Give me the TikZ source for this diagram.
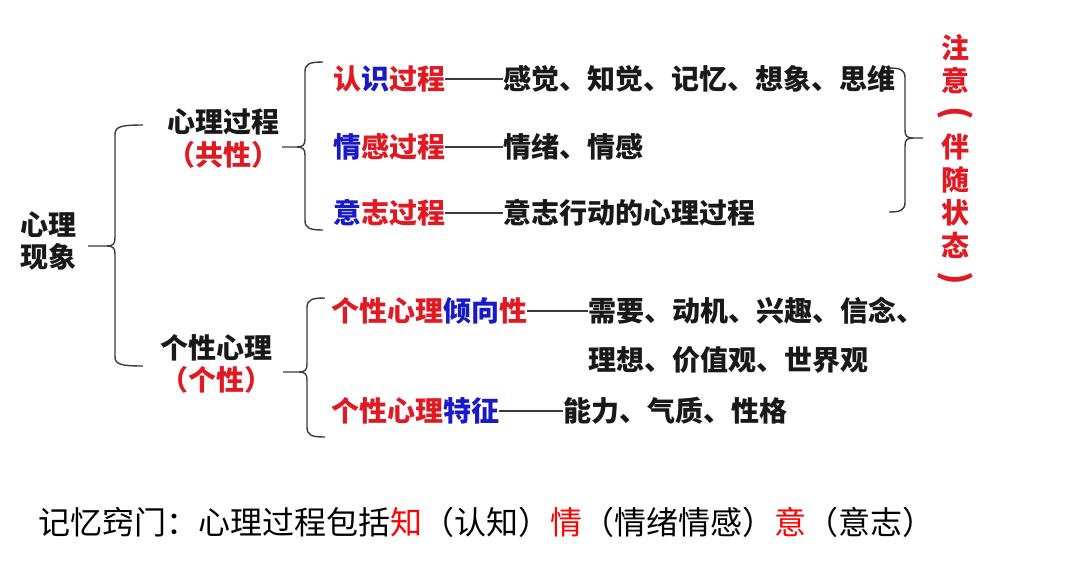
\documentclass[tikz,border=0pt]{standalone}
\usepackage{fontspec}
\newfontfamily\cjk{Noto Sans CJK SC}
\definecolor{tred}{RGB}{225,25,35}
\definecolor{tblue}{RGB}{25,25,200}
\definecolor{tink}{RGB}{25,25,25}
\definecolor{pred}{RGB}{255,0,0}
\tikzset{
  lbl/.style={inner sep=0pt, text=tink, font=\cjk\bfseries\fontsize{28}{32}\selectfont},
  lblw/.style={lbl, anchor=west},
  brc/.style={draw=tink!85, line width=1.4pt},
  conn/.style={draw=tink!85, line width=1.4pt},
  foot/.style={inner sep=0pt, anchor=west, text=black, font=\cjk\fontsize{32}{36}\selectfont}
}
% left brace: #1 x of vertical, #2 top y, #3 mid y, #4 bottom y, #5 tip x, #6 hook length
\newcommand{\mybrL}[6]{%
  \draw[brc] (#1+#6,#2) .. controls (#1+4,#2) and (#1,#2+2) .. (#1,#2+10)
     -- (#1,#3-8) .. controls (#1,#3-2) and (#1-2,#3) .. (#1-8,#3) -- (#5,#3);
  \draw[brc] (#1-8,#3) .. controls (#1-2,#3) and (#1,#3+2) .. (#1,#3+8)
     -- (#1,#4-10) .. controls (#1,#4-2) and (#1-4+8,#4) .. (#1+#6,#4);}
% right brace
\newcommand{\mybrR}[6]{%
  \draw[brc] (#1-#6,#2) .. controls (#1-4,#2) and (#1,#2+2) .. (#1,#2+10)
     -- (#1,#3-8) .. controls (#1,#3-2) and (#1+2,#3) .. (#1+8,#3) -- (#5,#3);
  \draw[brc] (#1+8,#3) .. controls (#1+2,#3) and (#1,#3+2) .. (#1,#3+8)
     -- (#1,#4-10) .. controls (#1,#4-2) and (#1-4,#4) .. (#1-#6,#4);}
\newcommand{\vparL}{{\fontsize{34}{33}\selectfont\rotatebox[origin=c]{-90}{(}}}
\newcommand{\vparR}{{\fontsize{34}{33}\selectfont\rotatebox[origin=c]{-90}{)}}}
\begin{document}
\begin{tikzpicture}[x=1pt,y=-1pt]
\useasboundingbox[fill=white] (0,0) rectangle (1067,563);
% level 1
\node[lbl, align=center] (xlxx) at (48,241) {心理\\现象};
% level 2
\node[lbl] (xlgc) at (223,122) {心理过程};
\node[lbl, text=tred] (gx1) at (223,155) {（共性）};
\node[lbl] (gxxl) at (216,348) {个性心理};
\node[lbl, text=tred] (gx2) at (216,380) {（个性）};
% level 3 top
\node[lblw] (rs) at (333,79) {\textcolor{tred}{认}\textcolor{tblue}{识}\textcolor{tred}{过程}};
\node[lblw] (rsx) at (503,79) {感觉、知觉、记忆、想象、思维};
\node[lblw] (qg) at (333,147) {\textcolor{tblue}{情}\textcolor{tred}{感过程}};
\node[lblw] (qgx) at (503,147) {情绪、情感};
\node[lblw] (yz) at (333,213) {\textcolor{tblue}{意}\textcolor{tred}{志过程}};
\node[lblw] (yzx) at (503,213) {意志行动的心理过程};
% level 3 bottom
\node[lblw] (qx) at (331,311) {\textcolor{tred}{个性心理}\textcolor{tblue}{倾向}\textcolor{tred}{性}};
\node[lblw] (qxa) at (588,311) {需要、动机、兴趣、信念、};
\node[lblw] (qxb) at (588,360) {理想、价值观、世界观};
\node[lblw] (tz) at (331,411) {\textcolor{tred}{个性心理}\textcolor{tblue}{特征}};
\node[lblw] (tzx) at (563,411) {能力、气质、性格};
% attention
\node[lbl, text=tred, align=center, font=\cjk\bfseries\fontsize{28}{33}\selectfont] (zy) at (955,162) {注\\意\\\vparL\\伴\\随\\状\\态\\\vparR};
% connectors
\draw[conn] (rs.east) -- (rsx.west);
\draw[conn] (qg.east) -- (qgx.west);
\draw[conn] (yz.east) -- (yzx.west);
\draw[conn] (qx.east) -- (qxa.west);
\draw[conn] (tz.east) -- (tzx.west);
% braces
\mybrL{115}{125}{246}{366}{88}{28}
\mybrL{305}{62}{147}{230}{282}{18}
\mybrL{307}{298}{372}{437}{283}{18}
\mybrR{905}{68}{138}{212}{923}{16}
% footer
\node[foot] (foot) at (38,522) {记忆窍门：心理过程包括\textcolor{pred}{知}（认知）\textcolor{pred}{情}（情绪情感）\textcolor{pred}{意}（意志）};
\end{tikzpicture}
\end{document}
